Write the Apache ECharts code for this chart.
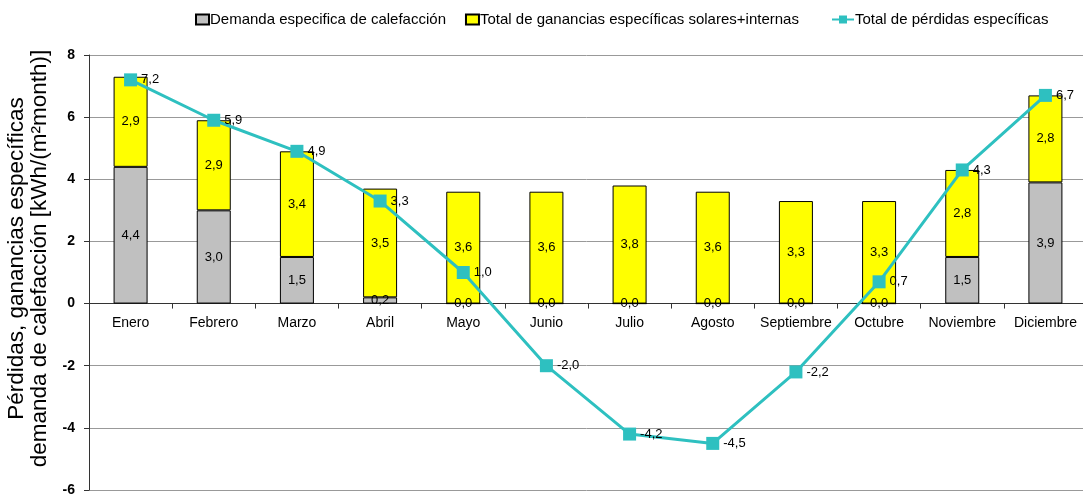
<!DOCTYPE html>
<html><head><meta charset="utf-8">
<script src="https://cdn.jsdelivr.net/npm/echarts@6/dist/echarts.min.js"></script>
<style>html,body{margin:0;padding:0;background:#fff}#c{width:1083px;height:495px}</style>
</head><body><div id="c"></div>
<script>
const categories = ['Enero','Febrero','Marzo','Abril','Mayo','Junio','Julio','Agosto','Septiembre','Octubre','Noviembre','Diciembre'];
const demanda = [4.4, 3.0, 1.5, 0.2, 0.0, 0.0, 0.0, 0.0, 0.0, 0.0, 1.5, 3.9];
const ganancias = [2.9, 2.9, 3.4, 3.5, 3.6, 3.6, 3.8, 3.6, 3.3, 3.3, 2.8, 2.8];
const perdidas = [7.2, 5.9, 4.9, 3.3, 1.0, -2.0, -4.2, -4.5, -2.2, 0.7, 4.3, 6.7];
const seriesNames = ['Demanda especifica de calefacción','Total de ganancias específicas solares+internas','Total de pérdidas específicas'];
const yAxisName = 'Pérdidas, ganancias específicas\ndemanda de calefacción [kWh/(m²month)]';

const FONT = "'Liberation Sans', Arial, sans-serif";
const fmt = p => p.value.toFixed(1).replace('.', ',');
const chart = echarts.init(document.getElementById('c'), null, {renderer:'canvas'});
chart.setOption({
  animation:false,
  textStyle:{fontFamily:FONT},
  legend:[{
    top:7, left:190, itemGap:19, itemWidth:13, itemHeight:10,
    textStyle:{fontSize:15, color:'#000', fontFamily:FONT, padding:[0,0,0,-4]},
    data:[
      {name:seriesNames[0], icon:'rect'},
      {name:seriesNames[1], icon:'rect'}
    ]
  },{
    top:7, left:826, itemWidth:22, itemHeight:10,
    textStyle:{fontSize:15, color:'#000', fontFamily:FONT, padding:[0,0,0,-4]},
    data:[{name:seriesNames[2]}]
  }],
  grid:{left:89, top:55, width:998, height:435, containLabel:false, outerBoundsMode:'none'},
  xAxis:{
    type:'category', data:categories,
    axisLine:{onZero:true, lineStyle:{color:'#333', width:1}},
    axisTick:{show:true, length:5, lineStyle:{color:'#333'}},
    axisLabel:{color:'#000', fontSize:14, margin:-174, interval:0, fontFamily:FONT},
    splitLine:{show:false}
  },
  yAxis:{
    type:'value', min:-6, max:8, interval:2,
    name:yAxisName, nameLocation:'middle', nameGap:38,
    nameTextStyle:{fontSize:22.5, color:'#000', lineHeight:23, fontFamily:FONT, padding:[0,0,0,28]},
    axisLine:{show:true, lineStyle:{color:'#333', width:1}},
    axisTick:{show:true, length:5, lineStyle:{color:'#333'}},
    axisLabel:{color:'#000', fontSize:14, fontWeight:'bold', margin:14, fontFamily:FONT},
    splitLine:{show:true, lineStyle:{color:'#999', width:1}}
  },
  series:[
    {
      name:seriesNames[0], type:'bar', stack:'s', data:demanda, barWidth:34,
      itemStyle:{color:'#C0C0C0', borderColor:'#000', borderWidth:1},
      label:{show:true, position:'inside', formatter:fmt, color:'#000', fontSize:13, fontFamily:FONT}
    },
    {
      name:seriesNames[1], type:'bar', stack:'s', data:ganancias, barWidth:34,
      itemStyle:{color:'#FFFF00', borderColor:'#000', borderWidth:1},
      label:{show:true, position:'inside', formatter:fmt, color:'#000', fontSize:13, fontFamily:FONT}
    },
    {
      name:seriesNames[2], type:'line', data:perdidas,
      symbol:'rect', symbolSize:13,
      lineStyle:{color:'#2EC0C0', width:3},
      itemStyle:{color:'#2EC0C0'},
      label:{show:true, position:'right', distance:4, formatter:fmt, color:'#000', fontSize:13, fontFamily:FONT},
      z:5
    }
  ]
});
</script></body></html>
